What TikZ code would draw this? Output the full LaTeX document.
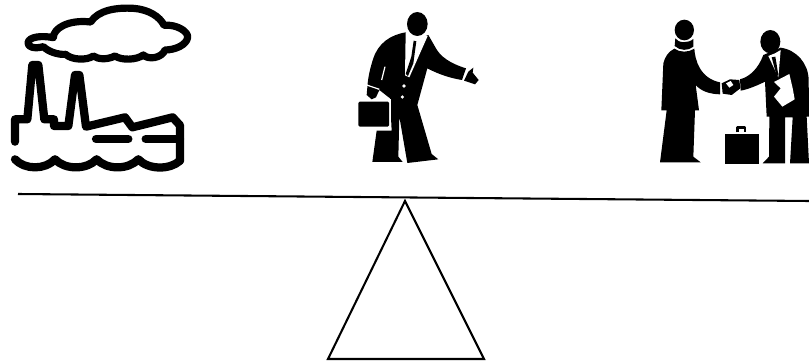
\documentclass[tikz,border=0pt]{standalone}
\tikzset{
  fac/.style={line width=6.2pt,line cap=round,line join=round,draw=black},
  ink/.style={fill=black,draw=none},
  gap/.style={fill=white,draw=none},
  gapline/.style={draw=white,line width=0.9pt},
  balance/.style={draw=black,line width=1.55pt,line join=miter}
}
\begin{document}
\begin{tikzpicture}[x=0.75pt,y=-0.75pt]
\useasboundingbox (0,0) rectangle (809,363);
% beam and pivot
\draw[balance] (18,194) -- (809,201);
\draw[balance] (405,201) -- (484,359) -- (328,359) -- cycle;
% factory
\begin{scope}[x=0.25pt,y=-0.25pt]
\draw[fac,line width=5.4pt] (84,128) .. controls (87,110) and (125,106) .. (160,113)
  .. controls (160,85) and (205,58) .. (272,66)
  .. controls (295,30) and (350,22) .. (400,25)
  .. controls (445,28) and (480,50) .. (492,76)
  .. controls (530,72) and (565,95) .. (563,112)
  .. controls (560,135) and (525,150) .. (495,150)
  .. controls (485,175) and (445,180) .. (430,165)
  .. controls (410,180) and (365,182) .. (345,168)
  .. controls (320,180) and (295,178) .. (280,168)
  .. controls (260,182) and (215,180) .. (197,163)
  .. controls (175,165) and (145,155) .. (130,140)
  .. controls (105,147) and (82,142) .. (84,128) -- cycle;
\draw[fac] (45,425) -- (45,358) -- (82,358) -- (97,195) -- (115,195) -- (133,358) -- (162,358) -- (162,378) -- (205,378) -- (225,225) -- (238,225) -- (258,380) -- (375,352) -- (397,382) -- (518,352) -- (540,376) -- (540,482);
\draw[fac] (288,417) -- (385,417);
\draw[fac] (437,417) -- (540,417);
\draw[fac] (45,478) .. controls (75,510) and (135,510) .. (165,478)
  .. controls (195,510) and (260,510) .. (290,478)
  .. controls (320,510) and (385,510) .. (415,478)
  .. controls (445,510) and (510,510) .. (540,482);
\end{scope}
% man with briefcase
\begin{scope}[shift={(340,0)},x=0.25pt,y=-0.25pt]
\path[ink] (197,97) .. controls (150,105) and (115,130) .. (100,175)
  .. controls (90,205) and (85,230) .. (83,250)
  -- (80,285) -- (95,298) -- (108,292) -- (118,270)
  -- (150,295) -- (155,392) -- (110,392)
  -- (97,486) -- (188,486) -- (175,470) -- (178,350)
  -- (202,489) -- (295,478) -- (275,462) -- (232,315) -- (262,205)
  .. controls (300,225) and (335,235) .. (366,240)
  -- (378,205) .. controls (330,190) and (300,170) .. (285,140)
  -- (265,105) -- (225,120) -- cycle;
\path[ink] (372,242) -- (385,215) -- (400,203) -- (398,218) -- (416,240) -- (405,253) -- cycle;
\draw[gapline] (80,255) -- (118,268);
\draw[gapline] (135,200) -- (125,240);
\path[gap] (197,97) -- (195,226) -- (208,232) -- (263,108) -- (232,100) -- cycle;
\path[ink] (221,122) -- (229,124) -- (220,190) -- (204,228) -- (197,222) -- (214,170) -- cycle;
\path[gap] (192,258) circle[radius=5.5] (187,291) circle[radius=5.5];
\path[ink] (232,72) ellipse[x radius=31,y radius=36];
\draw[gapline] (108,298) -- (152,298) -- (152,388) -- (108,388);
\path[ink,rounded corners=1pt] (55,305) rectangle (147,380);
\end{scope}
% handshake
\begin{scope}[shift={(650,0)},x=0.25pt,y=-0.25pt]
\path[ink] (103,90) ellipse[x radius=29,y radius=31];
\path[ink] (76,115) .. controls (85,130) and (115,130) .. (130,117) -- (130,140) .. controls (115,153) and (90,153) .. (74,138) -- cycle;
\path[ink] (73,146) .. controls (90,158) and (115,158) .. (133,146)
  .. controls (135,180) and (150,235) .. (210,247) -- (210,283)
  .. controls (180,282) and (155,275) .. (137,255)
  -- (147,331) -- (135,331) -- (130,470) -- (152,487) -- (30,487) -- (50,331) -- (34,331)
  -- (40,190) .. controls (45,170) and (55,155) .. (73,146) -- cycle;
\path[ink] (215,250) -- (240,238) -- (268,240) -- (271,265) -- (245,285) -- (218,281) -- cycle;
\path[gap] (228,250) -- (242,243) -- (250,255) -- (238,263) -- cycle;
\path[ink] (361,125) ellipse[x radius=30,y radius=35];
\path[ink] (270,238) .. controls (300,230) and (325,205) .. (340,165)
  -- (392,143) .. controls (440,150) and (475,190) .. (476,240)
  -- (477,350) -- (470,350) -- (477,490) -- (420,490) -- (428,352) -- (405,352)
  -- (405,490) -- (338,490) -- (357,470) -- (358,350) -- (350,350)
  -- (345,245) .. controls (325,255) and (295,268) .. (272,272) -- cycle;
\path[gap] (355,168) -- (385,232) -- (392,150) -- (375,160) -- cycle;
\path[ink] (365,172) -- (376,170) -- (385,225) -- (380,228) -- cycle;
\path[gap] (372,246) -- (418,222) -- (428,265) -- (434,298) -- (397,320) -- (372,290) -- (392,265) -- cycle;
\path[ink] (225,402) rectangle (327,492);
\draw[black,line width=2.2pt,line join=round] (263,397) -- (263,383) -- (285,383) -- (285,397);
\end{scope}
\end{tikzpicture}
\end{document}
